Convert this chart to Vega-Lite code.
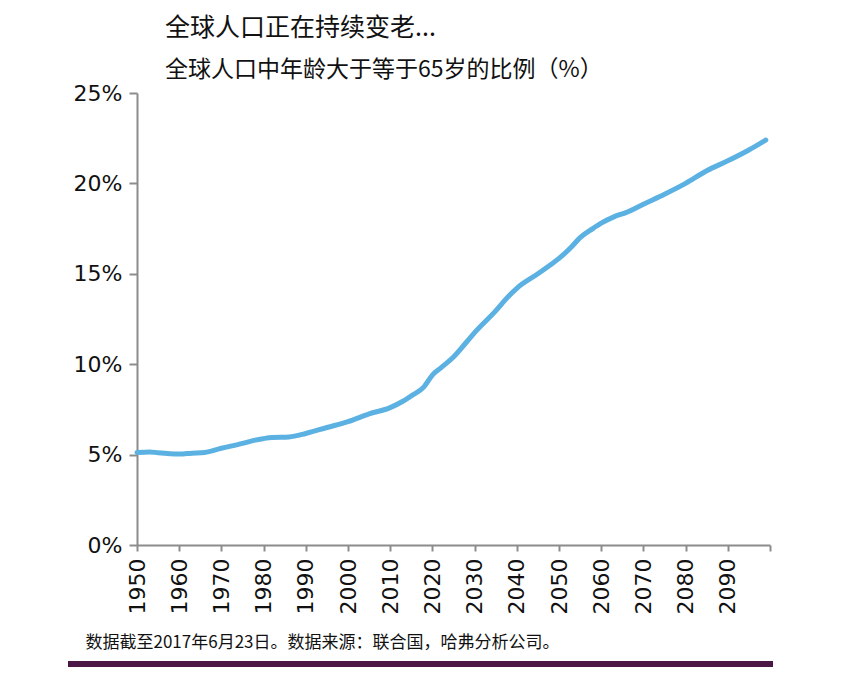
{
  "$schema": "https://vega.github.io/schema/vega-lite/v6.json",
  "autosize": {"type": "none"},
  "padding": {"left": 137, "top": 93, "right": 80, "bottom": 141},
  "width": 633,
  "height": 452,
  "background": "white",
  "title": {
    "text": "全球人口正在持续变老...",
    "subtitle": "全球人口中年龄大于等于65岁的比例（%）",
    "anchor": "start",
    "frame": "group",
    "dx": 28,
    "offset": 0,
    "font": "Noto Sans CJK SC",
    "fontSize": 25,
    "fontWeight": "normal",
    "color": "#111111",
    "subtitleFont": "Noto Sans CJK SC",
    "subtitleFontSize": 23,
    "subtitleColor": "#111111",
    "subtitlePadding": 18
  },
  "data": {
    "values": [
      {"year": 1950, "share": 5.12},
      {"year": 1953, "share": 5.15},
      {"year": 1955, "share": 5.1},
      {"year": 1960, "share": 5.03},
      {"year": 1963, "share": 5.08},
      {"year": 1966, "share": 5.12},
      {"year": 1970, "share": 5.35},
      {"year": 1975, "share": 5.62},
      {"year": 1978, "share": 5.8},
      {"year": 1982, "share": 5.95},
      {"year": 1986, "share": 5.98},
      {"year": 1990, "share": 6.17},
      {"year": 1995, "share": 6.5},
      {"year": 2000, "share": 6.82},
      {"year": 2005, "share": 7.25},
      {"year": 2010, "share": 7.6},
      {"year": 2013, "share": 7.95},
      {"year": 2015, "share": 8.25},
      {"year": 2018, "share": 8.75},
      {"year": 2020, "share": 9.4},
      {"year": 2022, "share": 9.8},
      {"year": 2025, "share": 10.4},
      {"year": 2028, "share": 11.2},
      {"year": 2030, "share": 11.75},
      {"year": 2035, "share": 12.95},
      {"year": 2038, "share": 13.75},
      {"year": 2040, "share": 14.2},
      {"year": 2045, "share": 15.0},
      {"year": 2048, "share": 15.5},
      {"year": 2050, "share": 15.85},
      {"year": 2053, "share": 16.5},
      {"year": 2055, "share": 17.0},
      {"year": 2058, "share": 17.5},
      {"year": 2060, "share": 17.8},
      {"year": 2063, "share": 18.15},
      {"year": 2066, "share": 18.4},
      {"year": 2070, "share": 18.85},
      {"year": 2075, "share": 19.4},
      {"year": 2080, "share": 20.0},
      {"year": 2085, "share": 20.7},
      {"year": 2090, "share": 21.25},
      {"year": 2095, "share": 21.85},
      {"year": 2099, "share": 22.4}
    ]
  },
  "layer": [
    {
      "mark": {"type": "line", "color": "#5bb1e2", "strokeWidth": 5, "strokeCap": "round", "interpolate": "monotone"},
      "encoding": {
        "x": {
          "field": "year",
          "type": "quantitative",
          "scale": {"domain": [1950, 2100], "nice": false, "zero": false},
          "axis": {
            "values": [1950, 1960, 1970, 1980, 1990, 2000, 2010, 2020, 2030, 2040, 2050, 2060, 2070, 2080, 2090, 2100],
            "format": "d",
            "labelExpr": "datum.value >= 2100 ? '' : datum.label",
            "labelAngle": 270,
            "labelAlign": "right",
            "labelBaseline": "middle",
            "labelFont": "DejaVu Sans",
            "labelFontSize": 22,
            "labelColor": "#111111",
            "labelPadding": 7,
            "labelOverlap": false,
            "labelFlush": false,
            "tickSize": 6,
            "grid": false,
            "title": "数据截至2017年6月23日。数据来源：联合国，哈弗分析公司。",
            "titleFont": "Noto Sans CJK SC",
            "titleFontSize": 17,
            "titleFontWeight": "normal",
            "titleColor": "#111111",
            "titleAnchor": "start",
            "titleAlign": "left",
            "titleBaseline": "alphabetic",
            "titleX": -52,
            "titleY": 102
          }
        },
        "y": {
          "field": "share",
          "type": "quantitative",
          "scale": {"domain": [0, 25], "nice": false},
          "axis": {
            "values": [0, 5, 10, 15, 20, 25],
            "labelExpr": "datum.value + '%'",
            "labelFont": "DejaVu Sans",
            "labelFontSize": 22,
            "labelColor": "#111111",
            "labelPadding": 7,
            "tickSize": 8,
            "grid": false,
            "title": null
          }
        }
      }
    },
    {
      "mark": {"type": "rect", "color": "#4a1747"},
      "encoding": {
        "x": {"datum": 1933.7, "type": "quantitative"},
        "x2": {"datum": 2100.5},
        "y": {"datum": -6.42, "type": "quantitative"},
        "y2": {"datum": -6.75}
      }
    }
  ],
  "config": {
    "view": {"stroke": null},
    "axis": {
      "domainColor": "#8c8c8c",
      "domainWidth": 2,
      "tickColor": "#8c8c8c",
      "tickWidth": 2
    }
  }
}
